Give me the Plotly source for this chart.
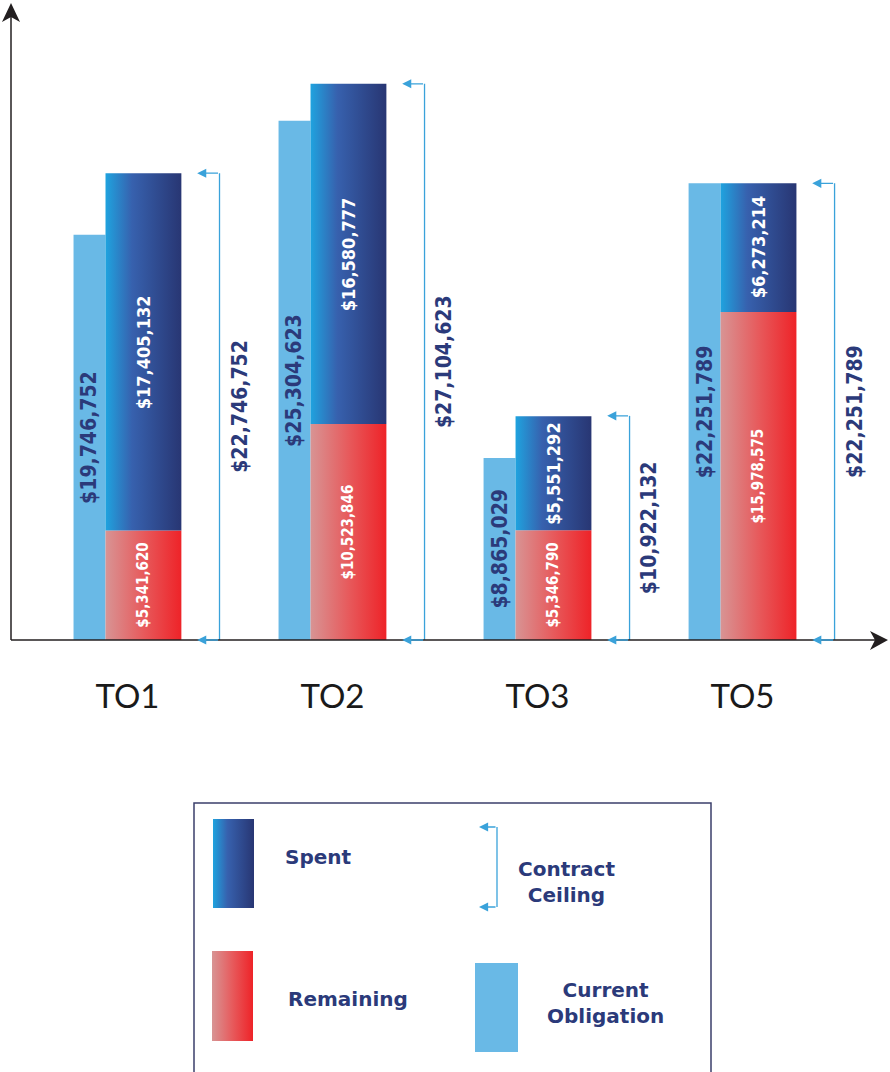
import plotly.graph_objects as go

# ---------------- data ----------------
categories = ["TO1", "TO2", "TO3", "TO5"]
obligation = [19746752, 25304623, 8865029, 22251789]
spent = [17405132, 16580777, 5551292, 6273214]
remaining = [5341620, 10523846, 5346790, 15978575]
ceiling = [22746752, 27104623, 10922132, 22251789]

# ---------------- style ----------------
W, H = 890, 1072
OBL_COLOR = "#69b9e6"
SPENT_SCALE = [[0, "#1fa3df"], [0.35, "#3761ae"], [1, "#283673"]]
REM_SCALE = [[0, "#d89494"], [0.5, "#e75a5c"], [1, "#ee2328"]]
BRACKET = "#3aa2da"
NAVY = "#2b3a7a"
AXIS = "#231f20"
LBL_FAMILY = "DejaVu Sans Condensed"

# horizontal layout (in category units)
OBL_L, OBL_R = -0.263, -0.107
MAIN_L, MAIN_R = -0.107, 0.263
BR_X, TIP_X, CEIL_LBL_X = 0.449, 0.34, 0.545

fig = go.Figure()

xs = list(range(len(categories)))

# current obligation bars
fig.add_trace(go.Bar(
    x=xs, y=obligation, width=0.156, offset=OBL_L,
    marker=dict(color=OBL_COLOR, line=dict(width=0)),
    showlegend=False, hoverinfo="skip"))

# spent / remaining segments with horizontal gradients
for i, c in enumerate(xs):
    r = remaining[i]
    top = remaining[i] + spent[i]
    fig.add_trace(go.Scatter(
        x=[c + MAIN_L, c + MAIN_R, c + MAIN_R, c + MAIN_L, c + MAIN_L],
        y=[0, 0, r, r, 0], mode="lines", line=dict(width=0),
        fill="toself",
        fillgradient=dict(type="horizontal", colorscale=REM_SCALE),
        showlegend=False, hoverinfo="skip"))
    fig.add_trace(go.Scatter(
        x=[c + MAIN_L, c + MAIN_R, c + MAIN_R, c + MAIN_L, c + MAIN_L],
        y=[r, r, top, top, r], mode="lines", line=dict(width=0),
        fill="toself",
        fillgradient=dict(type="horizontal", colorscale=SPENT_SCALE),
        showlegend=False, hoverinfo="skip"))

shapes = []
annotations = []

def fmt(v):
    return "<b>${:,}</b>".format(v)

for i, c in enumerate(xs):
    # contract ceiling bracket
    shapes.append(dict(type="line", xref="x", yref="y",
                       x0=c + BR_X, x1=c + BR_X, y0=0, y1=ceiling[i],
                       line=dict(color=BRACKET, width=1.3)))
    for yy in (0, ceiling[i]):
        annotations.append(dict(
            xref="x", yref="y", axref="x", ayref="y",
            x=c + TIP_X, y=yy, ax=c + BR_X, ay=yy, text="",
            showarrow=True, arrowhead=2, arrowsize=1.4, arrowwidth=1.3,
            arrowcolor=BRACKET))
    # labels
    annotations.append(dict(
        xref="x", yref="y", x=c + (OBL_L + OBL_R) / 2, y=obligation[i] / 2,
        text=fmt(obligation[i]), textangle=-90, showarrow=False,
        font=dict(family=LBL_FAMILY, size=21, color=NAVY)))
    annotations.append(dict(
        xref="x", yref="y", x=c + (MAIN_L + MAIN_R) / 2,
        y=remaining[i] + spent[i] / 2,
        text=fmt(spent[i]), textangle=-90, showarrow=False,
        font=dict(family=LBL_FAMILY, size=18, color="white")))
    annotations.append(dict(
        xref="x", yref="y", x=c + (MAIN_L + MAIN_R) / 2, y=remaining[i] / 2,
        text=fmt(remaining[i]), textangle=-90, showarrow=False,
        font=dict(family=LBL_FAMILY, size=15, color="white")))
    annotations.append(dict(
        xref="x", yref="y", x=c + CEIL_LBL_X, y=ceiling[i] / 2,
        text=fmt(ceiling[i]), textangle=-90, showarrow=False,
        font=dict(family=LBL_FAMILY, size=21, color=NAVY)))

# ---------------- axes lines with arrowheads (pixel space x2/y2) ----------------
shapes.append(dict(type="line", xref="x2", yref="y2", x0=11, x1=11, y0=640, y1=12,
                   line=dict(color=AXIS, width=1.5)))
shapes.append(dict(type="line", xref="x2", yref="y2", x0=11, x1=880, y0=640, y1=640,
                   line=dict(color=AXIS, width=1.5)))
shapes.append(dict(type="path", xref="x2", yref="y2",
                   path="M 11 3 L 2 22 L 11 17 L 20 22 Z",
                   fillcolor=AXIS, line=dict(width=0)))
shapes.append(dict(type="path", xref="x2", yref="y2",
                   path="M 888 640 L 870 631 L 875 640 L 870 650 Z",
                   fillcolor=AXIS, line=dict(width=0)))

# ---------------- legend box (pixel space) ----------------
shapes.append(dict(type="rect", xref="x2", yref="y2", x0=194, x1=711, y0=803, y1=1085,
                   line=dict(color="#3b3f6b", width=1.5), fillcolor="rgba(0,0,0,0)"))
fig.add_trace(go.Scatter(
    x=[213, 254, 254, 213, 213], y=[819, 819, 908, 908, 819], xaxis="x2", yaxis="y2",
    mode="lines", line=dict(width=0), fill="toself",
    fillgradient=dict(type="horizontal", colorscale=SPENT_SCALE),
    showlegend=False, hoverinfo="skip"))
fig.add_trace(go.Scatter(
    x=[212, 253, 253, 212, 212], y=[951, 951, 1041, 1041, 951], xaxis="x2", yaxis="y2",
    mode="lines", line=dict(width=0), fill="toself",
    fillgradient=dict(type="horizontal", colorscale=REM_SCALE),
    showlegend=False, hoverinfo="skip"))
shapes.append(dict(type="rect", xref="x2", yref="y2", x0=475, x1=518, y0=963, y1=1052,
                   fillcolor=OBL_COLOR, line=dict(width=0)))
shapes.append(dict(type="line", xref="x2", yref="y2", x0=497, x1=497, y0=827, y1=907,
                   line=dict(color=BRACKET, width=1.3)))
for yy in (827, 907):
    annotations.append(dict(xref="x2", yref="y2", axref="x2", ayref="y2",
                            x=479, y=yy, ax=497, ay=yy, text="", showarrow=True,
                            arrowhead=2, arrowsize=1.4, arrowwidth=1.3,
                            arrowcolor=BRACKET))
LEG_FONT = dict(family="DejaVu Sans", size=20, color=NAVY)
for txt, x, y in [("Spent", 318, 857), ("Remaining", 348, 999),
                  ("Contract<br>Ceiling", 566, 882), ("Current<br>Obligation", 605, 1003)]:
    annotations.append(dict(xref="x2", yref="y2", x=x, y=y, text="<b>" + txt.replace("<br>", "</b><br><b>") + "</b>",
                            showarrow=False, font=LEG_FONT, align="center"))

fig.update_layout(
    width=W, height=H,
    margin=dict(l=0, r=0, t=0, b=0),
    paper_bgcolor="white", plot_bgcolor="rgba(0,0,0,0)",
    barmode="overlay", showlegend=False,
    xaxis=dict(domain=[11 / W, 885 / W], range=[-0.568, 3.695],
               tickvals=xs, ticktext=categories, ticks="",
               tickfont=dict(family="Lato", size=33, color="#1a1a1a"),
               ticklabelstandoff=34,
               showgrid=False, zeroline=False, showline=False, fixedrange=True),
    yaxis=dict(domain=[(H - 640) / H, (H - 10) / H], range=[0, 30.7e6],
               visible=False, showgrid=False, zeroline=False, fixedrange=True),
    xaxis2=dict(domain=[0, 1], range=[0, W], visible=False, anchor="y2",
                fixedrange=True),
    yaxis2=dict(domain=[0, 1], range=[H, 0], visible=False, anchor="x2",
                fixedrange=True),
    shapes=shapes, annotations=annotations,
)

fig.write_html("out.html")
